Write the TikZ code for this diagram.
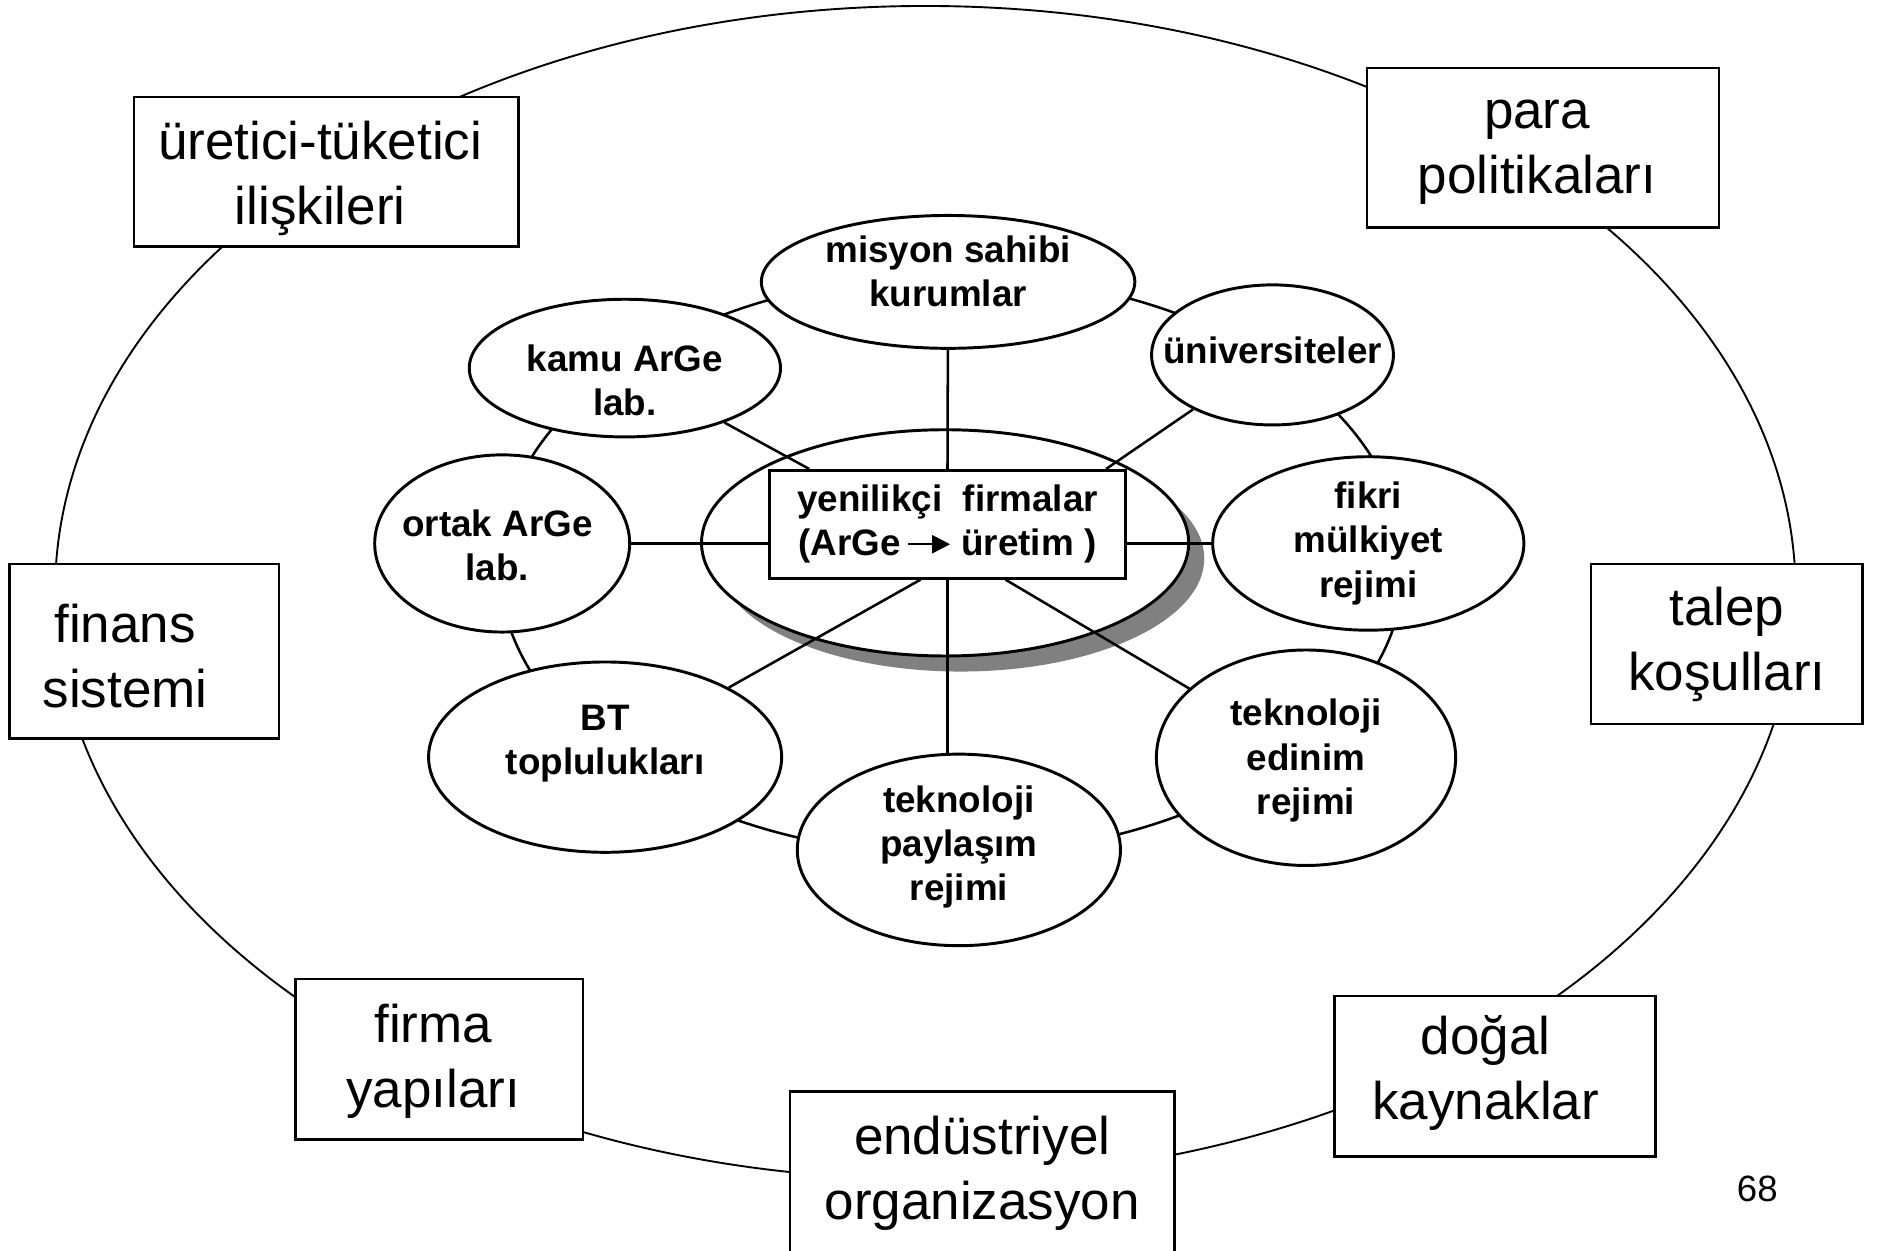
\documentclass[tikz,border=0pt]{standalone}
\usepackage{fontspec}
\setmainfont{Liberation Sans}
\usetikzlibrary{shapes.geometric, arrows.meta, shadows}

\newcommand{\outerfont}{\fontsize{12.6}{15.4}\selectfont}
\newcommand{\innerfont}{\fontsize{8.75}{10.5}\selectfont\bfseries}
% move a block of lines inside its node without moving the node
\newcommand{\nudge}[3]{\raisebox{#2}[\height][\depth]{\makebox[0pt]{\hspace*{#1}\begin{tabular}{@{}c@{}}#3\end{tabular}\hspace*{-#1}}}}
\newcommand{\rdarrow}{\tikz[baseline=-0.6ex]\draw[line width=0.5pt, -{Triangle[length=4.3pt, width=4.3pt]}] (0,0) -- (10pt,0);}

\begin{document}
\begin{tikzpicture}[
  box/.style={rectangle, draw, fill=white, line width=0.6pt, inner sep=0pt, align=center, font=\outerfont},
  oval/.style={ellipse, draw, fill=white, line width=0.7pt, inner sep=0pt, align=center, font=\innerfont},
  spoke/.style={line width=0.6pt}]
  \useasboundingbox (0,0) rectangle (15.68,10.45);

  % rings
  \draw[line width=0.45pt] (7.73,5.50) ellipse [x radius=7.27, y radius=4.90];
  \draw[line width=0.6pt] (7.95,5.73) ellipse [x radius=3.78, y radius=2.42];

  % surrounding conditions
  \node[box, minimum width=3.21cm, minimum height=1.25cm] (uretici) at (2.725,9.015) {\nudge{-0.05cm}{-0.06cm}{üretici-tüketici\\ilişkileri}};
  \node[box, minimum width=2.94cm, minimum height=1.33cm] (para) at (12.89,9.215) {\nudge{-0.05cm}{0pt}{para\\politikaları}};
  \node[box, minimum width=2.25cm, minimum height=1.46cm] (finans) at (1.205,5.01) {\nudge{-0.16cm}{-0.09cm}{finans\\sistemi}};
  \node[box, minimum width=2.27cm, minimum height=1.34cm] (talep) at (14.425,5.07) {talep\\koşulları};
  \node[box, minimum width=2.40cm, minimum height=1.34cm] (firma) at (3.67,1.60) {\nudge{-0.05cm}{-0.02cm}{firma\\yapıları}};
  \node[box, minimum width=3.21cm, minimum height=1.36cm] (endustri) at (8.205,0.65) {endüstriyel\\organizasyon};
  \node[box, minimum width=2.68cm, minimum height=1.34cm] (dogal) at (12.49,1.46) {\nudge{-0.08cm}{0.02cm}{doğal\\kaynaklar}};
  \node[font=\fontsize{8.7}{10}\selectfont] (sayfa) at (14.68,0.52) {68};

  % centre
  \node[oval, minimum width=4.07cm, minimum height=1.89cm,
    drop shadow={shadow xshift=0.13cm, shadow yshift=-0.13cm, fill=black!50, opacity=1}] (hub) at (7.895,5.915) {};
  \node[box, font=\innerfont, line width=0.7pt, minimum width=2.97cm, minimum height=0.90cm] (core) at (7.915,6.07)
    {yenilikçi\ \ firmalar\\(ArGe\,\rdarrow\ üretim )};

  % actors
  \node[oval, minimum width=3.12cm, minimum height=1.11cm] (misyon) at (7.92,8.095) {\nudge{0pt}{0.055cm}{misyon sahibi\\kurumlar}};
  \node[oval, minimum width=2.02cm, minimum height=1.17cm] (univ) at (10.63,7.485) {\nudge{0pt}{0pt}{üniversiteler}};
  \node[oval, minimum width=2.60cm, minimum height=1.15cm] (kamu) at (5.22,7.375) {\nudge{0pt}{-0.14cm}{kamu ArGe\\lab.}};
  \node[oval, minimum width=2.13cm, minimum height=1.48cm] (ortak) at (4.195,5.91) {\nudge{-0.04cm}{-0.05cm}{ortak ArGe\\lab.}};
  \node[oval, minimum width=2.60cm, minimum height=1.38cm] (fikri) at (11.43,5.91) {fikri\\mülkiyet\\rejimi};
  \node[oval, minimum width=2.95cm, minimum height=1.59cm] (bt) at (5.055,4.125) {\nudge{0pt}{0.11cm}{BT\\toplulukları}};
  \node[oval, minimum width=2.70cm, minimum height=1.60cm] (payl) at (8.01,3.35) {\nudge{0pt}{0.02cm}{teknoloji\\paylaşım\\rejimi}};
  \node[oval, minimum width=2.50cm, minimum height=1.80cm] (edinim) at (10.91,4.12) {\nudge{0pt}{-0.03cm}{teknoloji\\edinim\\rejimi}};

  % spokes
  \draw[spoke] (misyon) -- (core.north);
  \draw[spoke] (kamu) -- ([xshift=-1.155cm]core.north);
  \draw[spoke] (univ) -- ([xshift=1.325cm]core.north);
  \draw[spoke] (ortak) -- (ortak -| core.west);
  \draw[spoke] (fikri) -- (fikri -| core.east);
  \draw[spoke] (bt) -- ([xshift=-0.225cm]core.south);
  \draw[spoke] (edinim) -- ([xshift=0.485cm]core.south);
  \draw[spoke] (core.south) -- (core.south |- payl.north);
\end{tikzpicture}
\end{document}
